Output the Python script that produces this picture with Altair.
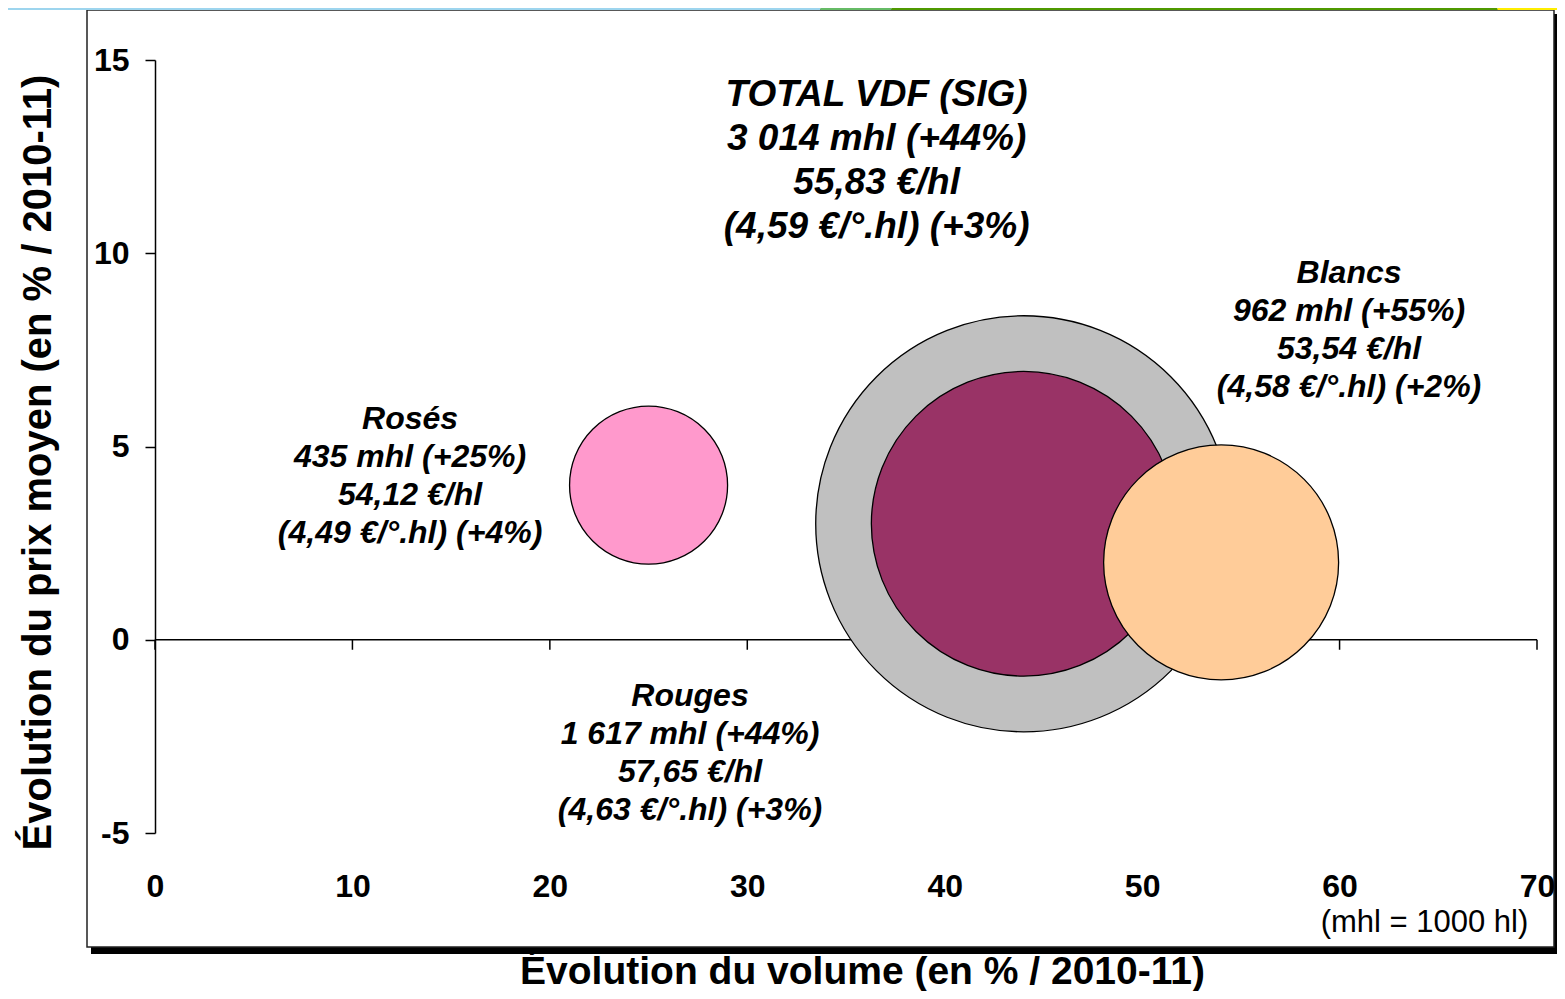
import altair as alt
import pandas as pd

# ---- data ----
categories = ["TOTAL VDF (SIG)", "Rouges", "Rosés", "Blancs"]
volume_growth = [44, 44, 25, 54]          # % vs 2010-11 (x)
price_growth = [3, 3, 4, 2]               # % vs 2010-11 (y)
volumes_mhl = [3014, 1617, 435, 962]      # bubble size
bubble_colors = ["#C0C0C0", "#993366", "#FF99CC", "#FFCC99"]
draw_order = [0, 1, 2, 3]

label_text = [
    "TOTAL VDF (SIG)\n3 014 mhl (+44%)\n55,83 €/hl\n(4,59 €/°.hl) (+3%)",
    "Rouges\n1 617 mhl (+44%)\n57,65 €/hl\n(4,63 €/°.hl) (+3%)",
    "Rosés\n435 mhl (+25%)\n54,12 €/hl\n(4,49 €/°.hl) (+4%)",
    "Blancs\n962 mhl (+55%)\n53,54 €/hl\n(4,58 €/°.hl) (+2%)",
]
label_x = [36.55, 27.1, 12.92, 60.48]
label_y = [14.10, -1.45, 5.72, 9.50]   # first line of each label

note_text = ["(mhl = 1000 hl)"]
note_x = [64.3]
note_y = [-7.34]

x_ticks = [0, 10, 20, 30, 40, 50, 60, 70]
y_ticks = [-5, 0, 5, 10, 15]

strip_colors = ["#9DD5EE", "#66BB66", "#4F9900", "#FFEE00"]
strip_from = [-12.1, 33.7, 37.3, 68.0]
strip_to = [33.7, 37.3, 68.0, 71.35]

bubbles = pd.DataFrame({
    "cat": categories, "vx": volume_growth, "vy": price_growth,
    "vol": volumes_mhl, "ord": draw_order,
})
labels = pd.DataFrame({"txt": label_text, "lx": label_x, "ly": label_y})
notes = pd.DataFrame({"txt": note_text, "nx": note_x, "ny": note_y})
strips = pd.DataFrame({"c": strip_colors, "a": strip_from, "b": strip_to})
xticks_df = pd.DataFrame({"t": x_ticks})
zero_df = pd.DataFrame({"x0": [x_ticks[0]], "x1": [x_ticks[-1]], "y0": [0]})

W, H = 1382, 773
Y0 = H * 15 / 20   # pixel of the y = 0 line inside the plot
FONT = "Liberation Sans"

xs = alt.Scale(domain=[0, 70], nice=False, zero=False)
ys = alt.Scale(domain=[-5, 15], nice=False, zero=False)

x_axis = alt.Axis(
    values=x_ticks, orient="bottom", domain=False, ticks=False, zindex=1,
    labelFont=FONT, labelFontWeight="bold", labelFontSize=32, labelColor="black",
    labelBaseline="middle", labelPadding=53, labelFlush=False, grid=False,
    title="Évolution du volume (en % / 2010-11)", titleFont=FONT,
    titleFontWeight="bold", titleFontSize=39, titleColor="black",
    titleX=707, titleY=138, titleBaseline="middle", titleAlign="center",
)
y_axis = alt.Axis(
    values=y_ticks, orient="left", tickSize=10, zindex=1,
    labelExpr="datum.value + ''",
    domainColor="black", domainWidth=1.5, tickColor="black", tickWidth=1.5,
    labelFont=FONT, labelFontWeight="bold", labelFontSize=32, labelColor="black",
    labelBaseline="middle", labelPadding=16, grid=False,
    title="Évolution du prix moyen (en % / 2010-11)", titleFont=FONT,
    titleFontWeight="bold", titleFontSize=40, titleColor="black",
    titleX=-117, titleY=402, titleAngle=270, titleBaseline="middle",
    titleAlign="center",
)

# decorative frame (shadow + box)
shadow = alt.Chart(pd.DataFrame({"k": [0]})).mark_rect(color="black").encode(
    x=alt.value(-64), x2=alt.value(1402), y=alt.value(-46), y2=alt.value(894)
)
frame = alt.Chart(pd.DataFrame({"k": [0]})).mark_rect(
    fill="white", stroke="#222222", strokeWidth=1.5
).encode(
    x=alt.value(-68), x2=alt.value(1399), y=alt.value(-50), y2=alt.value(887)
)
strip = alt.Chart(strips).mark_rect().encode(
    x=alt.X("a:Q", scale=xs), x2="b:Q",
    y=alt.value(-52), y2=alt.value(-50),
    color=alt.Color("c:N", scale=None, legend=None),
)

# x axis line at y = 0 with downward ticks (drawn under the bubbles)
zero_line = alt.Chart(zero_df).mark_rule(color="black", strokeWidth=1.5).encode(
    x=alt.X("x0:Q", scale=xs), x2="x1:Q", y=alt.Y("y0:Q", scale=ys)
)
x_tick_marks = alt.Chart(xticks_df).mark_rule(color="black", strokeWidth=1.5).encode(
    x=alt.X("t:Q", scale=xs), y=alt.value(Y0), y2=alt.value(Y0 + 10)
)

circles = alt.Chart(bubbles).mark_point(
    shape="circle", filled=True, opacity=1, stroke="black", strokeWidth=1.3
).encode(
    x=alt.X("vx:Q", scale=xs, axis=x_axis),
    y=alt.Y("vy:Q", scale=ys, axis=y_axis),
    size=alt.Size("vol:Q", scale=alt.Scale(type="linear", domain=[0, 3014],
                                           range=[0, 173000]), legend=None),
    color=alt.Color("cat:N", scale=alt.Scale(domain=categories,
                                             range=bubble_colors), legend=None),
    order=alt.Order("ord:Q"),
)

total_lbl = alt.Chart(labels.iloc[:1]).mark_text(
    font=FONT, fontWeight="bold", fontStyle="italic", fontSize=37,
    lineHeight=44, align="center", baseline="middle", color="black",
    lineBreak="\n",
).encode(x=alt.X("lx:Q", scale=xs), y=alt.Y("ly:Q", scale=ys), text="txt:N")

other_lbl = alt.Chart(labels.iloc[1:]).mark_text(
    font=FONT, fontWeight="bold", fontStyle="italic", fontSize=32,
    lineHeight=38, align="center", baseline="middle", color="black",
    lineBreak="\n",
).encode(x=alt.X("lx:Q", scale=xs), y=alt.Y("ly:Q", scale=ys), text="txt:N")

note = alt.Chart(notes).mark_text(
    font=FONT, fontSize=31, align="center", baseline="middle", color="black"
).encode(x=alt.X("nx:Q", scale=xs), y=alt.Y("ny:Q", scale=ys), text="txt:N")

chart = alt.layer(
    shadow, frame, strip, zero_line, x_tick_marks, circles,
    total_lbl, other_lbl, note
).properties(
    width=W, height=H,
    autosize=alt.AutoSizeParams(type="none"),
    padding={"left": 147, "top": 52, "right": 20, "bottom": 158},
).configure_view(stroke=None).configure(background="white")

chart.save("out.html", embed_options={"renderer": "svg", "actions": False})
